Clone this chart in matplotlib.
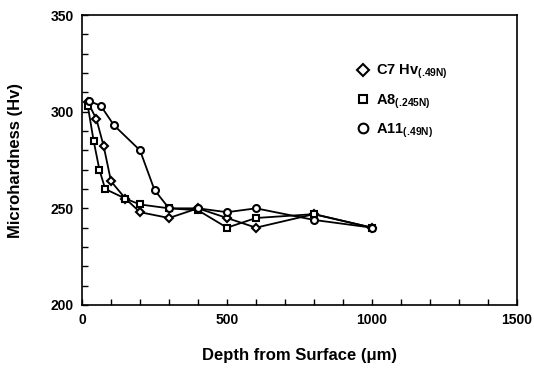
import matplotlib
matplotlib.use("Agg")
import matplotlib.pyplot as plt
from matplotlib.ticker import MultipleLocator, FixedLocator
from matplotlib.lines import Line2D

plt.rcParams['font.family'] = ['Liberation Sans', 'DejaVu Sans']
plt.rcParams['mathtext.fontset'] = 'custom'
plt.rcParams['mathtext.rm'] = 'Liberation Sans:bold'
plt.rcParams['mathtext.it'] = 'Liberation Sans:bold'
plt.rcParams['mathtext.bf'] = 'Liberation Sans:bold'
plt.rcParams['mathtext.default'] = 'bf'

# Data
c7_depth = [20, 50, 75, 100, 150, 200, 300, 400, 500, 600, 800, 1000]
c7_hv = [305, 296, 282, 264, 255, 248, 245, 250, 245, 240, 247, 240]

a8_depth = [20, 40, 60, 80, 150, 200, 300, 400, 500, 600, 800, 1000]
a8_hv = [303, 285, 270, 260, 255, 252, 250, 249, 240, 245, 247, 240]

a11_depth = [25, 65, 110, 200, 250, 300, 400, 500, 600, 800, 1000]
a11_hv = [305.5, 303, 293, 280, 259.5, 250, 250, 248, 250, 244, 240]

labels = [r"C7 Hv$_{(.\!49N)}$", r"A8$_{(.\!245N)}$", r"A11$_{(.\!49N)}$"]

fig = plt.figure(figsize=(5.34, 3.73), dpi=100)
ax = fig.add_axes([82/534, 1-305/373, (517-82)/534, (305-15)/373])

style = dict(color='black', lw=1.3, markersize=5, markerfacecolor='white',
             markeredgecolor='black', markeredgewidth=1.5)
ax.plot(c7_depth, c7_hv, marker='D', **dict(style, markersize=4.5))
ax.plot(a8_depth, a8_hv, marker='s', **dict(style, markersize=4.5))
ax.plot(a11_depth, a11_hv, marker='o', **style)

ax.set_xlim(0, 1500)
ax.set_ylim(200, 350)
ax.xaxis.set_major_locator(FixedLocator([0, 500, 1000, 1500]))
ax.xaxis.set_minor_locator(MultipleLocator(100))
ax.yaxis.set_major_locator(FixedLocator([200, 250, 300, 350]))
ax.yaxis.set_minor_locator(MultipleLocator(10))
ax.tick_params(which='both', direction='in', length=4, width=1, top=False, right=False)
for lab in ax.get_xticklabels() + ax.get_yticklabels():
    lab.set_fontweight('bold')
    lab.set_fontsize(10)
ax.tick_params(axis='x', pad=6)
ax.tick_params(axis='y', pad=6)
for sp in ax.spines.values():
    sp.set_linewidth(1.2)

ax.set_xlabel("Depth from Surface (μm)", fontsize=12, fontweight='bold', labelpad=15)
ax.set_ylabel("Microhardness (Hv)", fontsize=12, fontweight='bold', labelpad=20)

handles = [Line2D([], [], ls='none', marker=m, markersize=ms, markerfacecolor='white',
                  markeredgecolor='black', markeredgewidth=1.5)
           for m, ms in [('D', 6), ('s', 6), ('o', 7)]]
leg = ax.legend(handles, labels, frameon=False, loc='upper left',
                bbox_to_anchor=((344-82)/435, 1-(50-15)/290),
                handlelength=0.8, handletextpad=0.5, labelspacing=0.75,
                prop={'weight': 'bold', 'size': 10.5})

fig.savefig("out.png", dpi=100)
